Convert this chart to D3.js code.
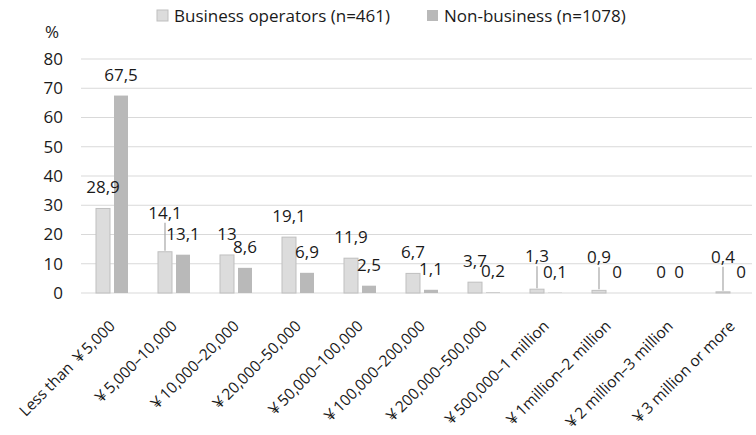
<!DOCTYPE html>
<html>
<head>
<meta charset="utf-8">
<script src="https://cdn.jsdelivr.net/npm/d3@7"></script>
<style>
  body { margin: 0; background: #fff; }
  svg text { font-family: "Open Sans", "Noto Sans", "Noto Sans CJK JP", sans-serif; fill: #1a1a1a; }
</style>
</head>
<body>
<div id="chart"></div>
<script>
// --------------------------------------------------
// income bands, two groups of respondents

var categories = [
    "Less than \uffe55,000", "\uffe55,000\u201310,000", "\uffe510,000\u201320,000",
    "\uffe520,000\u201350,000", "\uffe550,000\u2013100,000", "\uffe5100,000\u2013200,000",
    "\uffe5200,000\u2013500,000", "\uffe5500,000\u20131 million", "\uffe51million\u20132 million",
    "\uffe52 million\u20133 million", "\uffe53 million or more"
];
var business = [28.9, 14.1, 13, 19.1, 11.9, 6.7, 3.7, 1.3, 0.9, 0, 0.4];
var nonBusiness = [67.5, 13.1, 8.6, 6.9, 2.5, 1.1, 0.2, 0.1, 0, 0, 0];
var yTicks = [0, 10, 20, 30, 40, 50, 60, 70, 80];
var seriesNames = ["Business operators (n=461)", "Non-business (n=1078)"];

// labels that were pulled up with a leader line (extra lift in px)
var businessLift = [0, 18, 0, 0, 0, 0, 0, 12, 12, 0, 14];

var width = 756, height = 435;
var plotLeft = 81, plotRight = 763, plotTop = 59, plotBottom = 293;
var fs = "17px";

var svg = d3.select("#chart")
    .append("svg")
    .attr("width", width)
    .attr("height", height);

var x = d3.scaleBand()
    .domain(categories)
    .range([plotLeft, plotRight]);

var y = d3.scaleLinear()
    .domain([0, 80])
    .range([plotBottom, plotTop]);

var barW = 14, gap = 4;

// grid lines
svg.append("g")
    .selectAll("line")
    .data(yTicks)
    .enter()
    .append("line")
    .attr("x1", plotLeft)
    .attr("x2", 752)
    .attr("y1", function(d) { return y(d); })
    .attr("y2", function(d) { return y(d); })
    .attr("stroke", "#d9d9d9")
    .attr("stroke-width", 1.2);

// y axis labels
var yAxis = d3.axisLeft(y).tickValues(yTicks).tickSize(0).tickPadding(0);
var gy = svg.append("g")
    .attr("transform", "translate(63,0)")
    .call(yAxis);
gy.select(".domain").remove();
gy.attr("font-family", null).attr("font-size", null);
gy.selectAll("text")
    .attr("font-size", fs)
    .attr("fill", null);

svg.append("text")
    .attr("x", 52)
    .attr("y", 38)
    .attr("text-anchor", "middle")
    .attr("font-size", fs)
    .text("%");

// bars
var bizX = function(i) { return x(categories[i]) + x.bandwidth() / 2 - gap / 2 - barW; };
var nonX = function(i) { return x(categories[i]) + x.bandwidth() / 2 + gap / 2; };

svg.append("g")
    .selectAll("rect")
    .data(business)
    .enter()
    .append("rect")
    .attr("x", function(d, i) { return bizX(i); })
    .attr("y", function(d) { return y(d); })
    .attr("width", barW)
    .attr("height", function(d) { return plotBottom - y(d); })
    .attr("fill", "#dcdcdc")
    .attr("stroke", "#bfbfbf")
    .attr("stroke-width", 1);

svg.append("g")
    .selectAll("rect")
    .data(nonBusiness)
    .enter()
    .append("rect")
    .attr("x", function(d, i) { return nonX(i); })
    .attr("y", function(d) { return y(d); })
    .attr("width", barW)
    .attr("height", function(d) { return plotBottom - y(d); })
    .attr("fill", "#b9b9b9");

var fmt = function(d) { return String(d).replace(".", ","); };

// leader lines
var lifted = d3.range(business.length).filter(function(i) { return businessLift[i] > 0; });
svg.append("g")
    .selectAll("line")
    .data(lifted)
    .enter()
    .append("line")
    .attr("x1", function(i) { return bizX(i) + barW / 2; })
    .attr("x2", function(i) { return bizX(i) + barW / 2; })
    .attr("y1", function(i) { return y(business[i]) - 21 - businessLift[i] + 10; })
    .attr("y2", function(i) { return y(business[i]) - 1; })
    .attr("stroke", "#a6a6a6")
    .attr("stroke-width", 1.2);

// data labels
svg.append("g")
    .selectAll("text")
    .data(business)
    .enter()
    .append("text")
    .attr("x", function(d, i) { return bizX(i) + barW / 2; })
    .attr("y", function(d, i) { return y(d) - 15 - businessLift[i]; })
    .attr("text-anchor", "middle")
    .attr("font-size", fs)
    .text(fmt);

svg.append("g")
    .selectAll("text")
    .data(nonBusiness)
    .enter()
    .append("text")
    .attr("x", function(d, i) { return nonX(i) + barW / 2; })
    .attr("y", function(d) { return y(d) - 15; })
    .attr("text-anchor", "middle")
    .attr("font-size", fs)
    .text(fmt);

// x labels
svg.append("g")
    .selectAll("text")
    .data(categories)
    .enter()
    .append("text")
    .attr("transform", function(d) {
        return "translate(" + (x(d) + x.bandwidth() / 2 + 4) + "," + 327 + ") rotate(-45)";
    })
    .attr("text-anchor", "end")
    .attr("font-size", "15.5px")
    .text(function(d) { return d; });

// legend
var legendX = [157, 427];
var legendFill = ["#dcdcdc", "#b9b9b9"];
var legend = svg.append("g")
    .selectAll("g")
    .data(seriesNames)
    .enter()
    .append("g")
    .attr("transform", function(d, i) { return "translate(" + legendX[i] + ",10)"; });

legend.append("rect")
    .attr("width", 11)
    .attr("height", 11)
    .attr("fill", function(d, i) { return legendFill[i]; })
    .attr("stroke", function(d, i) { return i == 0 ? "#bfbfbf" : "none"; });

legend.append("text")
    .attr("x", 17)
    .attr("y", 12)
    .attr("font-size", fs)
    .text(function(d) { return d; });
</script>
</body>
</html>
